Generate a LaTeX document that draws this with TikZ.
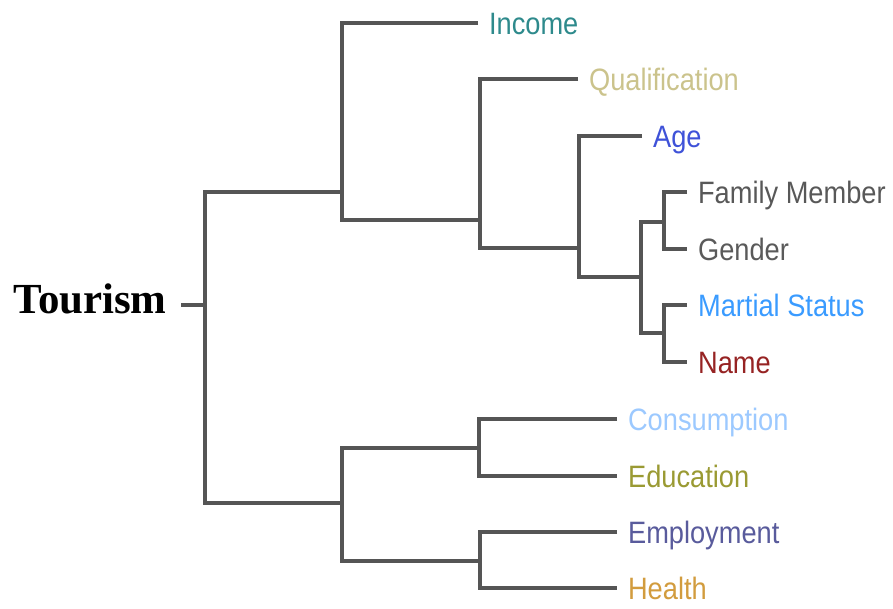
\documentclass[tikz,border=0pt]{standalone}
\usepackage{fontspec}
\setmainfont{Liberation Sans}
\newfontfamily\rootfont{Liberation Serif}
\usepackage{graphicx}
\usepackage{xcolor}
\definecolor{branch}{HTML}{555555}
\definecolor{cincome}{HTML}{2E8A8C}
\definecolor{cqual}{HTML}{CBC38C}
\definecolor{cage}{HTML}{3F52D8}
\definecolor{cfamily}{HTML}{585858}
\definecolor{cgender}{HTML}{5A5A5A}
\definecolor{cmartial}{HTML}{3A9BFF}
\definecolor{cname}{HTML}{962323}
\definecolor{ccons}{HTML}{9CC9FF}
\definecolor{cedu}{HTML}{9A9A33}
\definecolor{cempl}{HTML}{595B9C}
\definecolor{chealth}{HTML}{D29C3E}
\usepackage{tikz}
\newcommand{\sq}[1]{\scalebox{0.88}[1]{#1}}
\tikzset{
  br/.style={draw=branch,line width=2.6pt},
  leaf/.style={anchor=west,font=\fontsize{22}{24}\selectfont,inner xsep=0.27cm,inner ysep=0pt,
    text height=0.55cm,text depth=0pt},
  root/.style={font=\rootfont\bfseries\fontsize{30.5}{34}\selectfont,text=black,inner xsep=0.36cm,inner ysep=0pt},
}
\begin{document}
\begin{tikzpicture}[x=0.025cm,y=-0.025cm]
  \useasboundingbox (0,0) rectangle (893,608);
  \node[root,anchor=base] (tourism) at (90,313) {Tourism};
  \coordinate (nR) at (205,305);
  \coordinate (nA) at (342,192);
  \coordinate (nB) at (480,220);
  \coordinate (nC) at (579,248);
  \coordinate (nD) at (641,277);
  \coordinate (nE) at (664,222);
  \coordinate (nF) at (664,333);
  \coordinate (nG) at (342,503);
  \coordinate (nH) at (479,448);
  \coordinate (nI) at (480,561);
  \node[leaf,text=cincome] (income) at (478,23) {\sq{Income}};
  \node[leaf,text=cqual] (qual) at (578,79) {\sq{Qualification}};
  \node[leaf,text=cage] (age) at (642,136) {\sq{Age}};
  \node[leaf,text=cfamily] (family) at (687,192) {\sq{Family Member}};
  \node[leaf,text=cgender] (gender) at (687,249) {\sq{Gender}};
  \node[leaf,text=cmartial] (martial) at (687,305) {\sq{Martial Status}};
  \node[leaf,text=cname] (name) at (687,362) {\sq{Name}};
  \node[leaf,text=ccons] (cons) at (617,419) {\sq{Consumption}};
  \node[leaf,text=cedu] (edu) at (617,476) {\sq{Education}};
  \node[leaf,text=cempl] (empl) at (617,532) {\sq{Employment}};
  \node[leaf,text=chealth] (health) at (617,588) {\sq{Health}};
  \draw[br] (tourism.east |- nR) -- (nR);
  \draw[br] (nA) -| (nR) |- (nG);
  \draw[br] (income.west) -| (nA) |- (nB);
  \draw[br] (qual.west) -| (nB) |- (nC);
  \draw[br] (age.west) -| (nC) |- (nD);
  \draw[br] (nE) -| (nD) |- (nF);
  \draw[br] (family.west) -| (nE) |- (gender.west);
  \draw[br] (martial.west) -| (nF) |- (name.west);
  \draw[br] (nH) -| (nG) |- (nI);
  \draw[br] (cons.west) -| (nH) |- (edu.west);
  \draw[br] (empl.west) -| (nI) |- (health.west);
\end{tikzpicture}
\end{document}
